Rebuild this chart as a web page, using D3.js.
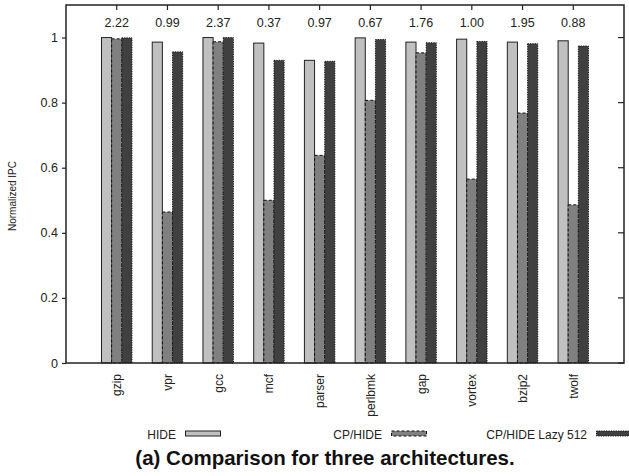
<!DOCTYPE html>
<html>
<head>
<meta charset="utf-8">
<script src="https://cdn.jsdelivr.net/npm/d3@7"></script>
<style>
  html, body { margin: 0; padding: 0; background: #fff; }
  svg { display: block; font-family: "Liberation Sans", Arial, Helvetica, sans-serif; }
</style>
</head>
<body>
<svg id="chart" width="629" height="476"></svg>
<script>
const categories = ["gzip", "vpr", "gcc", "mcf", "parser", "perlbmk", "gap", "vortex", "bzip2", "twolf"];
const seriesNames = ["HIDE", "CP/HIDE", "CP/HIDE Lazy 512"];
const hide = [1.0, 0.986, 1.0, 0.983, 0.930, 0.999, 0.986, 0.995, 0.986, 0.990];
const cpHide = [0.996, 0.464, 0.987, 0.500, 0.638, 0.807, 0.953, 0.565, 0.768, 0.486];
const cpHideLazy = [0.999, 0.956, 1.0, 0.930, 0.927, 0.994, 0.984, 0.988, 0.981, 0.974];
const topLabels = ["2.22", "0.99", "2.37", "0.37", "0.97", "0.67", "1.76", "1.00", "1.95", "0.88"];
const yTicks = [0, 0.2, 0.4, 0.6, 0.8, 1];
const title = "(a) Comparison for three architectures.";
const yLabel = "Normalized IPC";

const series = [hide, cpHide, cpHideLazy];
const fills = ["#c0c0c0", "#808080", "#404040"];
const dashes = [null, "3,2", "1.2,1.2"];
const strokes = ["#222", "#111", "#111"];

const svg = d3.select("#chart");
const L = 66, R = 624, T = 5, B = 363;

const x = d3.scaleLinear().domain([0, categories.length + 1]).range([L, R]);
const y = d3.scaleLinear().domain([0, 1.1]).range([B, T]);
const bw = 0.2;

// bars
series.forEach((vals, s) => {
  svg.append("g").selectAll("rect").data(vals).join("rect")
    .attr("x", (d, i) => x(i + 1 - 0.3 + s * bw))
    .attr("width", x(bw) - x(0))
    .attr("y", d => y(d))
    .attr("height", d => y(0) - y(d))
    .attr("fill", fills[s])
    .attr("stroke", strokes[s])
    .attr("stroke-width", 1)
    .attr("stroke-dasharray", dashes[s]);
});

// frame
svg.append("rect").attr("x", L).attr("y", T).attr("width", R - L).attr("height", B - T)
  .attr("fill", "none").attr("stroke", "#222").attr("stroke-width", 1.5);

// left axis (outward ticks)
const yAxis = d3.axisLeft(y).tickValues(yTicks).tickSize(4).tickPadding(4)
  .tickFormat(d => d === 0 ? "0" : d === 1 ? "1" : d3.format(".1f")(d));
const gy = svg.append("g").attr("transform", `translate(${L},0)`).call(yAxis);
gy.select(".domain").remove();
gy.selectAll("line").attr("stroke", "#222").attr("stroke-width", 1.2);
gy.selectAll("text").attr("font-size", 12.5).attr("fill", "#222");

// right ticks (inward)
svg.append("g").selectAll("line").data(yTicks).join("line")
  .attr("x1", R - 6).attr("x2", R)
  .attr("y1", d => y(d)).attr("y2", d => y(d))
  .attr("stroke", "#222").attr("stroke-width", 1.2);

// top ticks (inward) and value labels
const idx = d3.range(1, categories.length + 1);
svg.append("g").selectAll("line").data(idx).join("line")
  .attr("x1", d => x(d)).attr("x2", d => x(d))
  .attr("y1", T).attr("y2", T + 5)
  .attr("stroke", "#222").attr("stroke-width", 1.2);
svg.append("g").selectAll("text").data(topLabels).join("text")
  .attr("x", (d, i) => x(i + 1)).attr("y", 27)
  .attr("text-anchor", "middle").attr("font-size", 12.5).attr("fill", "#222")
  .text(d => d);

// bottom category labels (rotated)
const xAxis = d3.axisBottom(x).tickValues(idx).tickSize(0).tickFormat(d => categories[d - 1]);
const gx = svg.append("g").attr("transform", `translate(0,${B})`).call(xAxis);
gx.select(".domain").remove();
gx.selectAll("text")
  .attr("font-size", 12).attr("fill", "#222")
  .attr("text-anchor", "end")
  .attr("dy", null)
  .attr("transform", "rotate(-90)")
  .attr("x", -11).attr("y", 0)
  .attr("dominant-baseline", "central");

// y label
svg.append("text")
  .attr("transform", `translate(16,196) rotate(-90)`)
  .attr("text-anchor", "middle").attr("font-size", 10).attr("fill", "#222")
  .text(yLabel);

// legend
const legendX = [176, 382, 587];
const lg = svg.append("g");
seriesNames.forEach((name, s) => {
  lg.append("text").attr("x", legendX[s]).attr("y", 438.5)
    .attr("text-anchor", "end").attr("font-size", 12).attr("fill", "#222").text(name);
  lg.append("rect").attr("x", legendX[s] + 9.5).attr("y", 431).attr("width", 35).attr("height", 5)
    .attr("fill", fills[s]).attr("stroke", strokes[s]).attr("stroke-width", 1)
    .attr("stroke-dasharray", dashes[s]);
});

// title
svg.append("text").attr("x", 325).attr("y", 464.5)
  .attr("text-anchor", "middle").attr("font-size", 20.5).attr("font-weight", "bold").attr("fill", "#111")
  .text(title);
</script>
</body>
</html>
